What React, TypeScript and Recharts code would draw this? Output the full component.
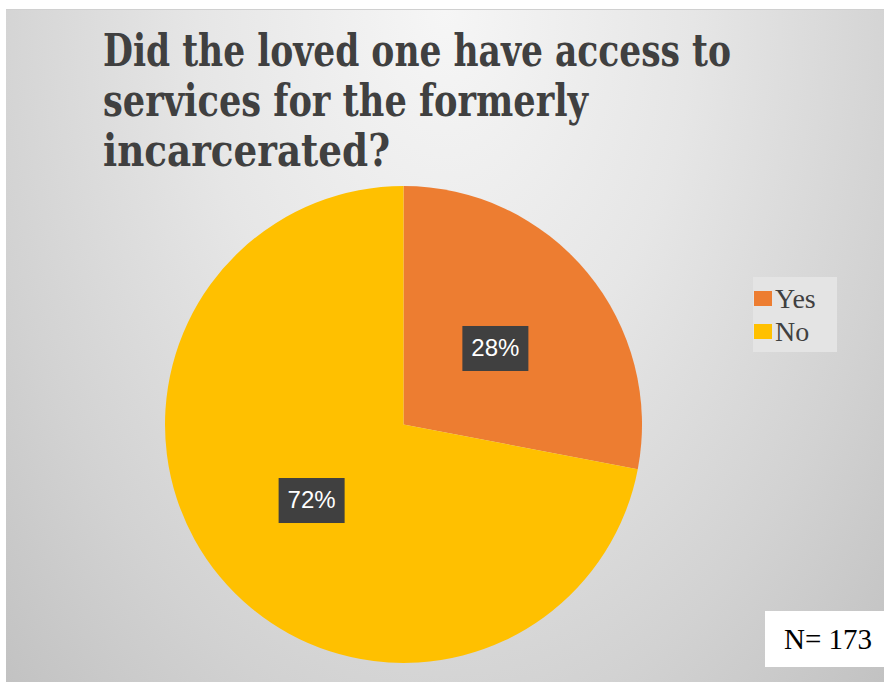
import { Cell, Legend, Pie, PieChart } from "recharts";

const categories = ["Yes", "No"];
const shares = [28, 72];
const colors = ["#ED7D31", "#FFC000"];
const titleLines = [
  "Did the loved one have access to",
  "services for the formerly",
  "incarcerated?",
];
const sampleNote = "N= 173";

const data = categories.map((name, i) => ({ name, value: shares[i] }));

const RADIAN = Math.PI / 180;

function renderLabel(props: any) {
  const { cx, cy, midAngle, outerRadius, value } = props;
  const r = outerRadius * 0.5;
  const x = cx + r * Math.cos(-midAngle * RADIAN);
  const y = cy + r * Math.sin(-midAngle * RADIAN);
  return (
    <g>
      <rect x={x - 33} y={y - 22.5} width={66} height={45} fill="#404040" />
      <text
        x={x}
        y={y + 1}
        fill="#ffffff"
        fontSize={24}
        fontFamily="'Liberation Sans', Arial, sans-serif"
        textAnchor="middle"
        dominantBaseline="middle"
      >
        {`${value}%`}
      </text>
    </g>
  );
}

function LegendBox({ payload }: any) {
  const items = [...(payload || [])].sort(
    (a: any, b: any) => categories.indexOf(a.value) - categories.indexOf(b.value)
  );
  return (
    <div
      style={{
        background: "#e4e4e4",
        width: 84,
        height: 75,
        padding: "5px 0 0 1px",
        boxSizing: "border-box",
      }}
    >
      {items.map((entry: any) => (
        <div
          key={entry.value}
          style={{
            display: "flex",
            alignItems: "center",
            height: 33,
            fontFamily: "'Liberation Serif', 'DejaVu Serif', serif",
            fontSize: 28,
            color: "#404040",
          }}
        >
          <span
            style={{
              display: "inline-block",
              width: 18,
              height: 15,
              background: entry.color,
              marginRight: 3,
            }}
          />
          {entry.value}
        </div>
      ))}
    </div>
  );
}

export default function App() {
  const titleWidths = [628, 485, 287];
  return (
    <div
      style={{
        position: "fixed",
        left: 0,
        top: 0,
        width: 884,
        height: 683,
        background: "#ffffff",
        overflow: "hidden",
      }}
    >
      <div
        style={{
          position: "absolute",
          left: 6,
          top: 9,
          width: 878,
          height: 672,
          background:
            "radial-gradient(ellipse at 50% 0%, #f6f6f6 0%, #e6e6e6 40%, #d2d2d2 75%, #c2c2c2 100%)",
          borderTop: "1px solid #d0d0d0",
        }}
      />
      <svg
        width={884}
        height={200}
        style={{ position: "absolute", left: 0, top: 0 }}
      >
        {titleLines.map((line, i) => (
          <text
            key={line}
            x={103}
            y={66 + i * 50}
            fill="#404040"
            fontSize={44}
            fontWeight="bold"
            fontStretch="condensed"
            fontFamily="'DejaVu Serif Condensed', 'DejaVu Serif', serif"
            textLength={titleWidths[i]}
            lengthAdjust="spacingAndGlyphs"
          >
            {line}
          </text>
        ))}
      </svg>
      <div style={{ position: "absolute", left: 0, top: 0 }}>
        <PieChart
          width={884}
          height={683}
          margin={{ top: 0, right: 0, bottom: 0, left: 0 }}
        >
          <Pie
            data={data}
            dataKey="value"
            nameKey="name"
            cx={403.5}
            cy={424.5}
            outerRadius={238.5}
            startAngle={90}
            endAngle={-270}
            stroke="none"
            label={renderLabel}
            labelLine={false}
            isAnimationActive={false}
          >
            {data.map((d, i) => (
              <Cell key={d.name} fill={colors[i]} />
            ))}
          </Pie>
          <Legend
            content={<LegendBox />}
            wrapperStyle={{ position: "absolute", left: 753, top: 277, width: 84 }}
          />
        </PieChart>
      </div>
      <div
        style={{
          position: "absolute",
          left: 765,
          top: 611,
          width: 119,
          height: 56,
          background: "#ffffff",
          fontFamily: "'Liberation Serif', serif",
          fontSize: 29,
          color: "#000000",
          lineHeight: "56px",
          paddingLeft: 19,
          boxSizing: "border-box",
          whiteSpace: "nowrap",
        }}
      >
        {sampleNote}
      </div>
    </div>
  );
}
